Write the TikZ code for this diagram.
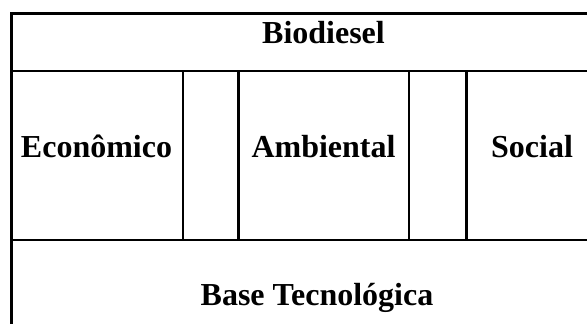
\documentclass[tikz,border=0pt]{standalone}
\usepackage{fontspec}
\setmainfont{Liberation Serif}

\tikzset{
  rule/.style={line width=2.4pt},
  cell/.style={anchor=base, inner sep=0pt, font=\fontsize{32}{38}\selectfont\bfseries}
}

\begin{document}
\begin{tikzpicture}[x=1pt, y=-1pt]
  \useasboundingbox (0,0) rectangle (587,324);
  \draw[rule] (587,13.5) -- (11.5,13.5) -- (11.5,324);
  \draw[rule] (11.5,71) -- (587,71);
  \draw[rule] (11.5,240) -- (587,240);
  \foreach \xpos in {183,238.5,409,466.5}
    \draw[rule] (\xpos,71) -- (\xpos,240);

  \node[cell] (biodiesel) at (323.5,43) {Biodiesel};
  \node[cell] (economico) at (96.5,157.7) {Econômico};
  \node[cell] (ambiental) at (323.5,157.7) {Ambiental};
  \node[cell] (social) at (532,157.7) {Social};
  \node[cell] (base) at (317,305.7) {Base Tecnológica};
\end{tikzpicture}
\end{document}
